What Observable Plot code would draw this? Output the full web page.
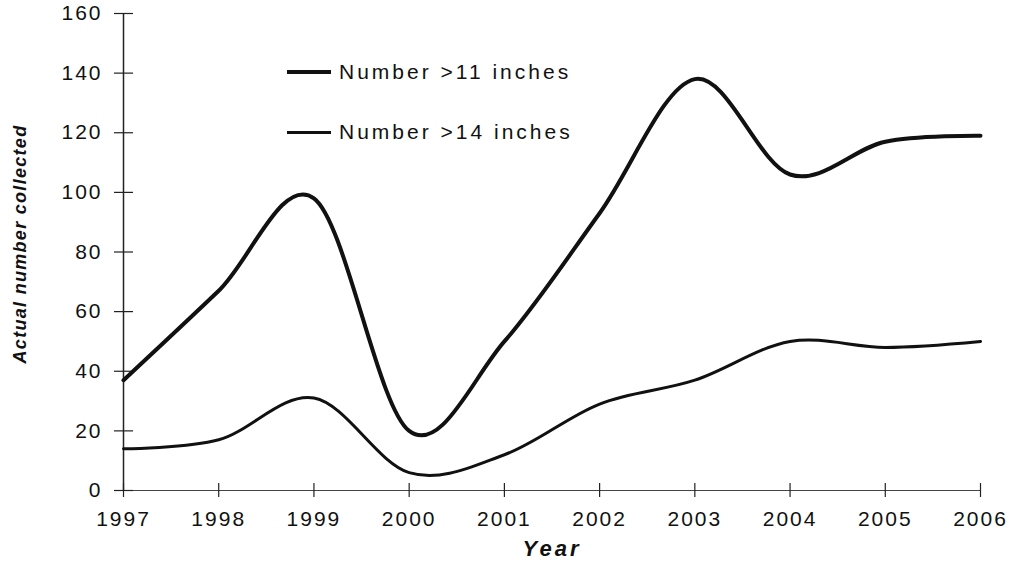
<!DOCTYPE html>
<html>
<head>
<meta charset="utf-8">
<script src="https://cdn.jsdelivr.net/npm/d3@7"></script>
<script src="https://cdn.jsdelivr.net/npm/@observablehq/plot@0.6"></script>
<style>
  html, body { margin: 0; padding: 0; background: #fff; }
  #chart { position: relative; width: 1013px; height: 571px; font-family: "Liberation Sans", Arial, sans-serif; }
  #chart svg text { letter-spacing: 2px; }
  #legend { position: absolute; left: 287px; top: 57px; font-size: 21px; letter-spacing: 3px; color: #111; }
  .item { display: flex; align-items: center; height: 30px; margin-bottom: 30px; }
  .swatch { width: 44px; margin-right: 8px; background: #111; }
</style>
</head>
<body>
<div id="chart"></div>
<script>
const years = [1997, 1998, 1999, 2000, 2001, 2002, 2003, 2004, 2005, 2006];
const over11 = [37, 67, 98, 20, 50, 93, 138, 106, 117, 119];
const over14 = [14, 17, 31, 6, 12, 29, 37, 50, 48, 50];
const seriesNames = ["Number >11 inches", "Number >14 inches"];
const yTicks = [0, 20, 40, 60, 80, 100, 120, 140, 160];
const yLabel = "Actual number collected";
const xLabel = "Year";

const rows = [];
years.forEach((yr, i) => {
  rows.push({year: yr, value: over11[i], series: seriesNames[0]});
  rows.push({year: yr, value: over14[i], series: seriesNames[1]});
});

const font = "Liberation Sans, Arial, sans-serif";
const plot = Plot.plot({
  width: 1013,
  height: 571,
  marginLeft: 123,
  marginRight: 33,
  marginTop: 13,
  marginBottom: 81,
  style: {fontFamily: font, fontSize: "21px", color: "#111", background: "#fff"},
  x: {domain: [1997, 2006]},
  y: {domain: [0, 160]},
  marks: [
    Plot.ruleX([1997], {stroke: "#222", strokeWidth: 1.5}),
    Plot.ruleY([0], {stroke: "#444", strokeWidth: 1.2, insetLeft: -9}),
    Plot.axisY({ticks: yTicks, tickSize: 19, dx: 10, tickPadding: 12, label: null, stroke: "#222", strokeWidth: 1.2, fontSize: 21}),
    Plot.axisX({ticks: years, tickFormat: d => String(d), tickSize: 14, dy: -7, tickPadding: 14, label: null, stroke: "#222", strokeWidth: 1.2, fontSize: 21}),
    Plot.line(rows.filter(d => d.series === seriesNames[0]), {x: "year", y: "value", curve: "cardinal", tension: 0, stroke: "#111", strokeWidth: 4}),
    Plot.line(rows.filter(d => d.series === seriesNames[1]), {x: "year", y: "value", curve: "cardinal", tension: 0, stroke: "#111", strokeWidth: 3}),
    Plot.text([yLabel], {frameAnchor: "left", dx: -103, dy: -8, rotate: -90, fontWeight: "bold", fontStyle: "italic", fontSize: 18, fill: "#111", textAnchor: "middle"}),
    Plot.text([xLabel], {frameAnchor: "bottom", dy: 65, fontWeight: "bold", fontStyle: "italic", fontSize: 22, fill: "#111"})
  ]
});
const chart = document.getElementById("chart");
chart.appendChild(plot);
d3.select(plot).selectAll("text").filter(function () { return this.textContent === yLabel; }).style("letter-spacing", "1.3px");
d3.select(plot).selectAll("text").filter(function () { return this.textContent === xLabel; }).style("letter-spacing", "3px");

const legend = document.createElement("div");
legend.id = "legend";
seriesNames.forEach((name, i) => {
  const item = document.createElement("div");
  item.className = "item";
  const sw = document.createElement("span");
  sw.className = "swatch";
  sw.style.height = (i === 0 ? 4 : 3) + "px";
  const lab = document.createElement("span");
  lab.textContent = name;
  item.appendChild(sw);
  item.appendChild(lab);
  legend.appendChild(item);
});
chart.appendChild(legend);
</script>
</body>
</html>
